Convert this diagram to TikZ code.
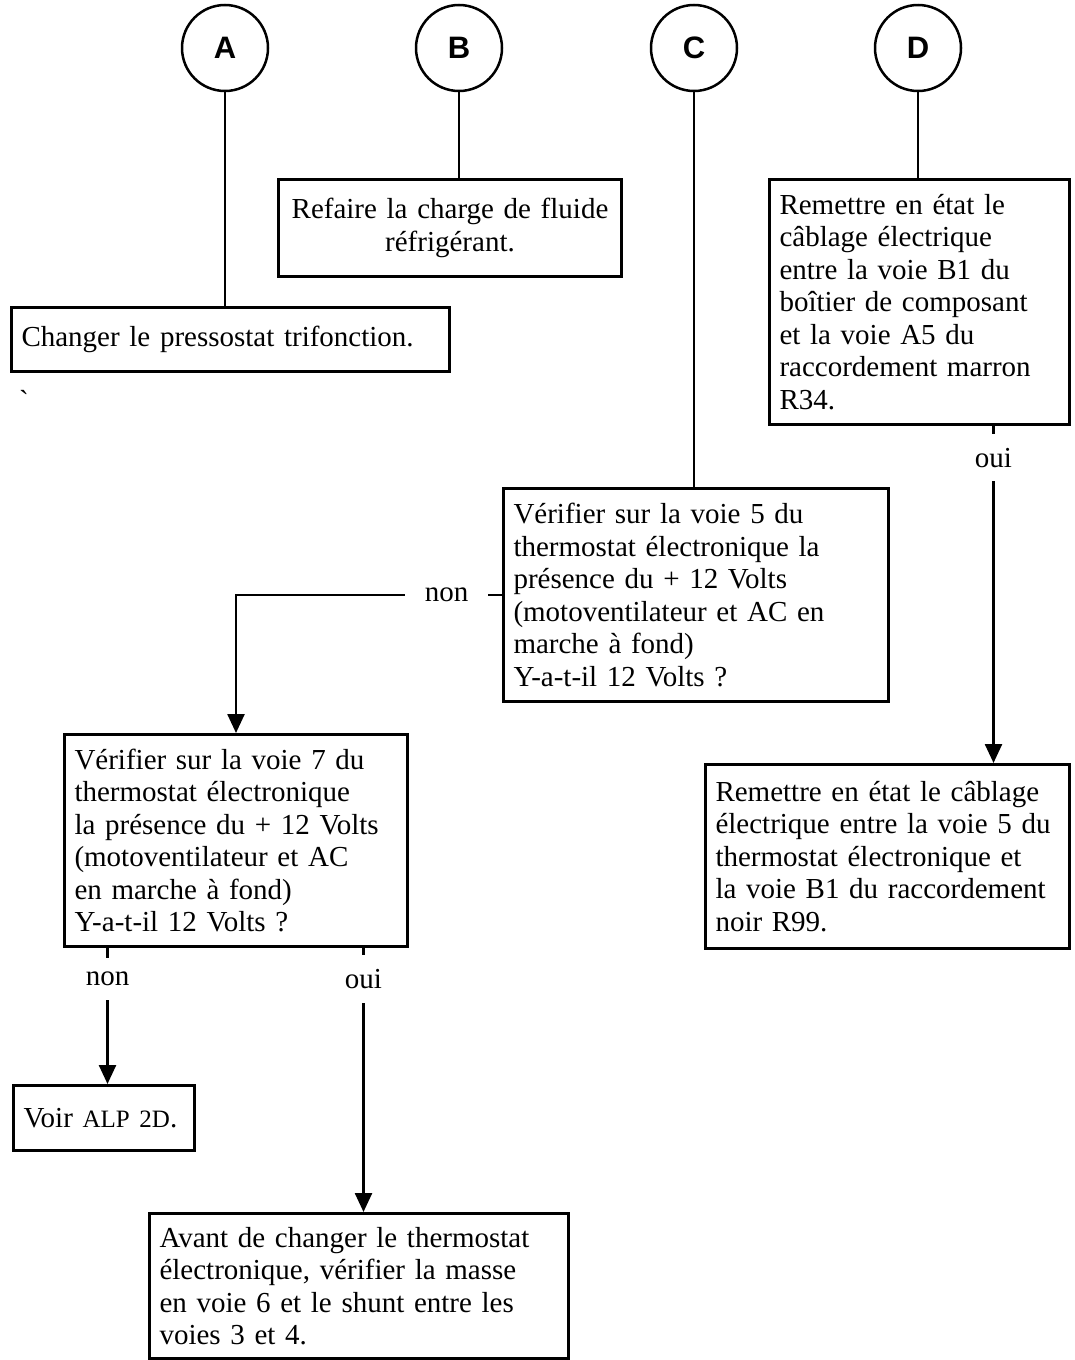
\documentclass[tikz,border=0pt]{standalone}
\usepackage{fontspec}
\setmainfont{Liberation Serif}
\newfontfamily\tagfont{Liberation Sans}
\usetikzlibrary{arrows.meta}

\begin{document}
\begin{tikzpicture}[x=1pt,y=-1pt,
  font=\fontsize{29}{32.5}\selectfont,
  box/.style 2 args={draw,line width=3pt,anchor=north west,inner xsep=10pt,inner ysep=4pt,
    align=left,text width=#1,minimum height=#2},
  tag/.style={draw,circle,line width=2.5pt,minimum size=86pt,inner sep=0pt,
    font=\tagfont\bfseries\fontsize{31}{31}\selectfont},
  lbl/.style={fill=white,inner xsep=20pt,inner ysep=14pt},
  wire/.style={line width=2.5pt},
  arr/.style={wire,-{Triangle[width=17pt,length=19pt]}}]
  \useasboundingbox (0,0) rectangle (1075,1360);

  % entry tags
  \node[tag] (cA) at (225,48) {A};
  \node[tag] (cB) at (459,48) {B};
  \node[tag] (cC) at (694,48) {C};
  \node[tag] (cD) at (918,48) {D};

  % boxes
  \node[box={418pt}{64pt}] (bA) at (10,306) {Changer le pressostat trifonction.};
  \node (tick) at (24,400) {\textasciigrave};
  \node[box={323pt}{97pt},align=center] (bB) at (277,178)
    {Refaire la charge de fluide\\réfrigérant.};
  \node[box={365pt}{213pt}] (bC) at (502,487)
    {Vérifier sur la voie 5 du\\thermostat électronique la\\présence du + 12 Volts\\
     (motoventilateur et AC en\\marche à fond)\\Y-a-t-il 12 Volts ?};
  \node[box={280pt}{245pt}] (bD) at (768,178)
    {Remettre en état le\\câblage électrique\\entre la voie B1 du\\boîtier de composant\\
     et la voie A5 du\\raccordement marron\\R34.};
  \node[box={323pt}{212pt}] (bE) at (63,733)
    {Vérifier sur la voie 7 du\\thermostat électronique\\la présence du + 12 Volts\\
     (motoventilateur et AC\\en marche à fond)\\Y-a-t-il 12 Volts ?};
  \node[box={161pt}{65pt}] (bF) at (12,1084)
    {Voir {\fontsize{25}{30}\selectfont ALP 2D}.};
  \node[box={399pt}{145pt}] (bG) at (148,1212)
    {Avant de changer le thermostat\\électronique, vérifier la masse\\
     en voie 6 et le shunt entre les\\voies 3 et 4.};
  \node[box={344pt}{184pt}] (bH) at (704,763)
    {Remettre en état le câblage\\électrique entre la voie 5 du\\thermostat électronique et\\
     la voie B1 du raccordement\\noir R99.};

  % arrow ends
  \coordinate (fTop) at ([xshift=3.5pt]bF.north);
  \coordinate (gTop) at ([xshift=4.5pt]bG.north);
  \coordinate (hTop) at ([xshift=106pt]bH.north);

  % connectors
  \draw[wire] (cA) -- (cA |- bA.north);
  \draw[wire] (cB) -- (cB |- bB.north);
  \draw[wire] (cC) -- (cC |- bC.north);
  \draw[wire] (cD) -- (cD |- bD.north);
  \draw[arr] (bC.west) -| node[lbl,pos=0.104] {non} (bE.north);
  \draw[arr] (bD.south -| hTop) -- node[lbl,pos=0.094] {oui} (hTop);
  \draw[arr] (bE.south -| fTop) -- node[lbl,pos=0.227] {non} (fTop);
  \draw[arr] (bE.south -| gTop) -- node[lbl,pos=0.118] {oui} (gTop);
\end{tikzpicture}
\end{document}
